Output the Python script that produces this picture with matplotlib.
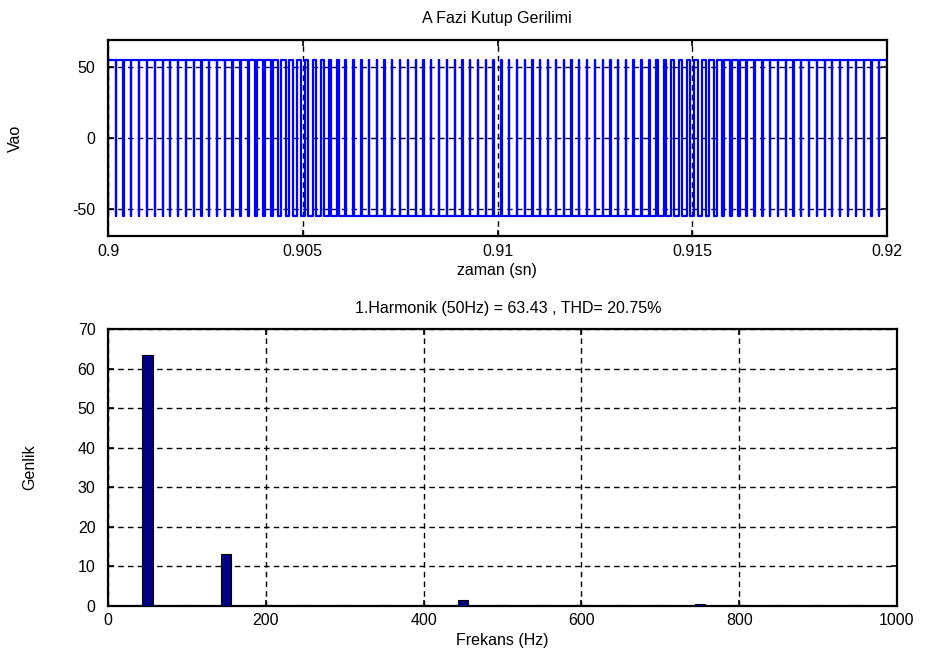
"""
plot.py - A phase pole voltage (PWM) and its harmonic spectrum.
"""

import numpy as np
import matplotlib
matplotlib.use("Agg")
import matplotlib.pyplot as plt

plt.rcParams["font.family"] = ["Liberation Sans", "DejaVu Sans"]
plt.rcParams["axes.unicode_minus"] = False

# ── Data ──
t_start, t_end = 0.9, 0.92
v_high, v_low = 55.0, -55.0
carrier_hz = 5000           # ~100 pulses per 20 ms

# duty of each carrier period over the first half cycle (0.9 .. 0.91 s);
# the second half cycle is the mirror image of the first
duty_half = [0.939, 0.953, 0.965, 0.975, 0.984, 0.990, 0.995, 0.997, 0.998, 0.997,
             0.993, 0.988, 0.981, 0.972, 0.961, 0.948, 0.934, 0.892, 0.843, 0.792,
             0.741, 0.688, 0.635, 0.581, 0.527, 0.473, 0.419, 0.365, 0.312, 0.259,
             0.208, 0.157, 0.108, 0.066, 0.052, 0.039, 0.028, 0.019, 0.012, 0.007,
             0.003, 0.002, 0.003, 0.005, 0.010, 0.016, 0.025, 0.035, 0.047, 0.061]
duty = duty_half + duty_half[::-1]

harm_freq = [50, 100, 150, 200, 250, 300, 350, 400, 450, 500,
             550, 600, 650, 700, 750, 800, 850, 900, 950]
harm_amp = [63.43, 0.3, 13.1, 0.3, 0.3, 0.3, 0.3, 0.3, 1.4, 0.3,
            0.3, 0.3, 0.3, 0.3, 0.5, 0.3, 0.3, 0.3, 0.3]

top_xticks = [0.9, 0.905, 0.91, 0.915, 0.92]
top_xticklabels = ["0.9", "0.905", "0.91", "0.915", "0.92"]
top_yticks = [-50, 0, 50]
bot_xticks = [0, 200, 400, 600, 800, 1000]
bot_yticks = [0, 10, 20, 30, 40, 50, 60, 70]


def pwm_edges(duty_list):
    """Center aligned pulses -> step points (time, level)."""
    T = 1.0 / carrier_hz
    ts, vs = [], []
    for k, d in enumerate(duty_list):
        t0 = t_start + k * T
        rise = t0 + (1 - d) * T / 2
        fall = t0 + (1 + d) * T / 2
        ts += [t0, rise, fall]
        vs += [v_low, v_high, v_low]
    ts.append(t_end)
    vs.append(v_low)
    return np.array(ts), np.array(vs)


W, H = 926, 656
fig = plt.figure(figsize=(W / 100, H / 100), dpi=100)


def px_axes(left, top, right, bottom):
    return fig.add_axes([left / W, 1 - bottom / H, (right - left) / W, (bottom - top) / H])


def style(ax, xpad, ypad):
    for s in ax.spines.values():
        s.set_linewidth(1.6)
        s.set_color("black")
    ax.tick_params(direction="in", top=True, right=True, length=4, width=1.2,
                   labelsize=11.5, colors="black")
    ax.tick_params(axis="x", pad=xpad)
    ax.tick_params(axis="y", pad=ypad)
    ax.grid(True, color="black", linestyle=(0, (4, 3)), linewidth=1.0)
    ax.set_axisbelow(True)


# ── Pole voltage ──
ax1 = px_axes(108, 40, 887, 236)
t, v = pwm_edges(duty)
ax1.plot(t, v, drawstyle="steps-post", color="#0000ff", linewidth=1.6)
ax1.set_xlim(t_start, t_end)
ax1.set_ylim(-69, 69)
ax1.set_xticks(top_xticks)
ax1.set_xticklabels(top_xticklabels)
ax1.set_yticks(top_yticks)
style(ax1, 6, 9)

# ── Harmonic spectrum ──
ax2 = px_axes(108, 329, 897, 606)
ax2.bar(harm_freq, harm_amp, width=13, color="#000080", edgecolor="black", linewidth=0.8,
        zorder=3)
ax2.set_xlim(0, 1000)
ax2.set_ylim(0, 70)
ax2.set_xticks(bot_xticks)
ax2.set_yticks(bot_yticks)
style(ax2, 5, 9)

fs = 11.5
fig.text(497 / W, 1 - 18 / H, "A Fazi Kutup Gerilimi", ha="center", va="center", fontsize=fs)
fig.text(497 / W, 1 - 270 / H, "zaman (sn)", ha="center", va="center", fontsize=fs)
fig.text(15 / W, 1 - 138 / H, "Vao", ha="center", va="center", rotation=90, fontsize=fs)
fig.text(508 / W, 1 - 309 / H, "1.Harmonik (50Hz) = 63.43 , THD= 20.75%",
         ha="center", va="center", fontsize=fs)
fig.text(30 / W, 1 - 467 / H, "Genlik", ha="center", va="center", rotation=90, fontsize=fs)
fig.text(502 / W, 1 - 640 / H, "Frekans (Hz)", ha="center", va="center", fontsize=fs)

fig.savefig("out.png", dpi=100, facecolor="white")
